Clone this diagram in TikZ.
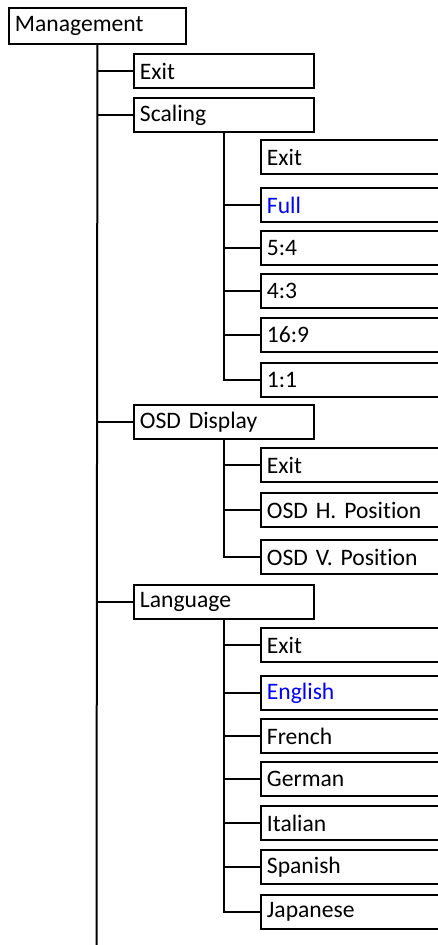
\documentclass[tikz,border=0pt]{standalone}
\usepackage{fontspec}
\setmainfont[Ligatures=NoCommon]{Carlito}
\begin{document}
\begin{tikzpicture}[x=0.75pt,y=-0.75pt,
    menu/.style={draw,line width=1.4pt,anchor=west,minimum height=25.5pt,
      inner xsep=4.5pt,text width=126pt,align=left,
      font=\fontsize{17.7}{20}\selectfont},
    item/.style={menu,text width=200pt},
    link/.style={line width=1.5pt}]
    \useasboundingbox (0,0) rectangle (438,945);
    \clip (0,0) rectangle (438,945);
    \node[menu,text width=123.75pt,minimum height=27pt] (mgmt) at (8,26) {Management};
    \coordinate (trunkend) at (96.5,945);
    \draw[link] (mgmt.south) -- (trunkend);
    % first level
    \foreach \y/\nm/\txt in {71/exit/Exit,115/scaling/Scaling,422/osd/OSD Display,602/lang/Language} {
        \node[menu] (\nm) at (133,\y) {\txt};
        \draw[link] (\nm.west) -- (\nm.west -| mgmt.south);
    }
    % scaling
    \foreach \y/\nm/\col/\txt in {157/sexit/black/Exit,205/sfull/blue/Full,248/sfive/black/5:4,
        291/sfour/black/4:3,335/ssix/black/16:9,380/sone/black/1:1} {
        \node[item,text=\col] (\nm) at (260,\y) {\txt};
    }
    \draw[link] (scaling.south) -- (sone.west -| scaling.south) -- (sone.west);
    \foreach \nm in {sfull,sfive,sfour,ssix}
        \draw[link] (\nm.west) -- (\nm.west -| scaling.south);
    % osd display
    \foreach \y/\nm/\txt in {465/oexit/Exit,510/ohpos/OSD H. Position,557/ovpos/OSD V. Position} {
        \node[item] (\nm) at (260,\y) {\txt};
    }
    \draw[link] (osd.south) -- (ovpos.west -| osd.south) -- (ovpos.west);
    \foreach \nm in {oexit,ohpos}
        \draw[link] (\nm.west) -- (\nm.west -| osd.south);
    % language
    \foreach \y/\nm/\col/\txt in {645/lexit/black/Exit,693/leng/blue/English,736/lfre/black/French,
        779/lger/black/German,823/lita/black/Italian,867/lspa/black/Spanish,912/ljap/black/Japanese} {
        \node[item,text=\col] (\nm) at (260,\y) {\txt};
    }
    \draw[link] (lang.south) -- (ljap.west -| lang.south) -- (ljap.west);
    \foreach \nm in {lexit,leng,lfre,lger,lita,lspa}
        \draw[link] (\nm.west) -- (\nm.west -| lang.south);
\end{tikzpicture}
\end{document}
